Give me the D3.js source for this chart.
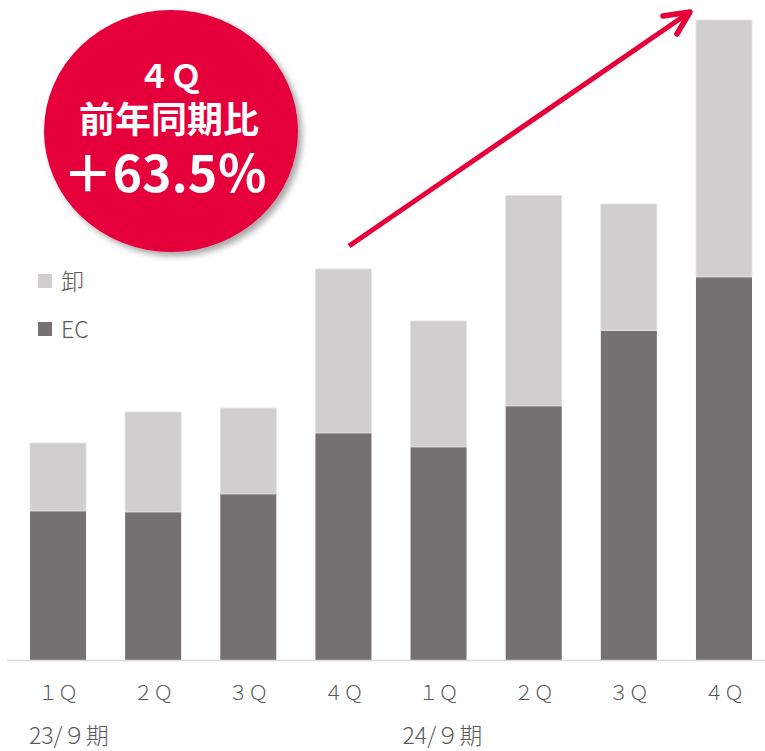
<!DOCTYPE html>
<html>
<head>
<meta charset="utf-8">
<script src="https://cdn.jsdelivr.net/npm/d3@7"></script>
<style>
  html, body { margin: 0; padding: 0; background: #fff; }
  svg { display: block; font-family: "Noto Sans CJK JP", "Noto Sans", sans-serif; }
</style>
</head>
<body>
<svg id="chart" width="765" height="751"></svg>
<script>
// Quarterly sales, split into EC and wholesale (卸)
const quarters = ["１Ｑ", "２Ｑ", "３Ｑ", "４Ｑ", "１Ｑ", "２Ｑ", "３Ｑ", "４Ｑ"];
const periods = [
  { label: "23/９期", first: 0 },
  { label: "24/９期", first: 4 }
];
const ecValues = [149, 148, 166, 227, 213, 254, 329.5, 383];
const wholesaleValues = [68, 100, 86, 164, 126, 210.5, 126.5, 257];
const seriesNames = ["卸", "EC"];
const badgeLines = ["４Ｑ", "前年同期比", "＋63.5％"];

const colors = { EC: "#767171", "卸": "#D0CECE" };
const red = "#E6003A";

const svg = d3.select("#chart");
const W = 765, H = 751;

const x = d3.scaleBand()
  .domain(d3.range(quarters.length))
  .range([10.5, 771.5])
  .paddingInner(0.411)
  .paddingOuter(0.205);

const maxTotal = d3.max(ecValues.map((v, i) => v + wholesaleValues[i]));
const y = d3.scaleLinear().domain([0, maxTotal]).range([660, 20]);

// stacked data: EC at bottom, wholesale on top
const rows = quarters.map((q, i) => ({ i, EC: ecValues[i], "卸": wholesaleValues[i] }));
const stack = d3.stack().keys(["EC", "卸"]);
const layers = stack(rows);

const gBars = svg.append("g");
layers.forEach(layer => {
  gBars.append("g")
    .attr("fill", colors[layer.key])
    .selectAll("rect")
    .data(layer)
    .join("rect")
    .attr("x", (d, j) => x(j))
    .attr("width", x.bandwidth())
    .attr("y", d => y(d[1]))
    .attr("height", d => y(d[0]) - y(d[1]))
    .attr("stroke", layer.key === "卸" ? "#e4e3e3" : "none")
    .attr("stroke-width", 0.8);
});

// baseline axis
const xAxis = d3.axisBottom(x)
  .tickSize(0)
  .tickPadding(26)
  .tickFormat(i => quarters[i]);
const gx = svg.append("g").attr("transform", `translate(0,${y(0)})`).call(xAxis);
gx.select(".domain").remove();
gx.selectAll("text")
  .attr("font-size", 20)
  .attr("font-weight", 300)
  .attr("fill", "#595959")
  .attr("font-family", "'Noto Sans CJK JP', sans-serif");
svg.append("line")
  .attr("x1", 7).attr("x2", W)
  .attr("y1", y(0) + 0.5).attr("y2", y(0) + 0.5)
  .attr("stroke", "#D9D9D9").attr("stroke-width", 1.5);

// fiscal period labels, placed under the first quarter of each period
svg.selectAll("text.period")
  .data(periods)
  .join("text")
  .attr("class", "period")
  .attr("x", d => x(d.first) - (d.first ? 8 : 1))
  .attr("y", 744)
  .attr("font-size", 23)
  .attr("font-weight", 300)
  .attr("fill", "#595959")
  .text(d => d.label);

// legend
const legend = svg.append("g").attr("transform", "translate(38,274)");
seriesNames.forEach((name, k) => {
  const g = legend.append("g").attr("transform", `translate(0,${k * 48})`);
  g.append("rect").attr("width", 14).attr("height", 14).attr("fill", colors[name]);
  g.append("text")
    .attr("x", 23).attr("y", 16)
    .attr("font-size", 23)
    .attr("font-weight", 300)
    .attr("fill", "#595959")
    .text(name);
});

// growth arrow from the year-ago 4Q bar to the latest 4Q bar
const defs = svg.append("defs");
const shadow = defs.append("filter").attr("id", "shadow")
  .attr("x", "-20%").attr("y", "-20%").attr("width", "150%").attr("height", "150%");
shadow.append("feDropShadow")
  .attr("dx", 4).attr("dy", 4).attr("stdDeviation", 3)
  .attr("flood-color", "#000").attr("flood-opacity", 0.35);

const ax0 = x(3) + x.bandwidth() * 0.6, ay0 = 246;
const ax1 = x(7) - 6, ay1 = 12;
svg.append("line")
  .attr("x1", ax0).attr("y1", ay0).attr("x2", ax1 - 3).attr("y2", ay1 + 2)
  .attr("stroke", red).attr("stroke-width", 5);
svg.append("path")
  .attr("d", `M${ax1 - 27},${ay1 + 4} L${ax1},${ay1} L${ax1 - 13},${ay1 + 22}`)
  .attr("fill", "none").attr("stroke", red).attr("stroke-width", 5.5)
  .attr("stroke-linecap", "round").attr("stroke-linejoin", "round");

// year-over-year badge
const badge = svg.append("g");
badge.append("ellipse")
  .attr("cx", 171).attr("cy", 131).attr("rx", 127).attr("ry", 121)
  .attr("fill", red)
  .attr("filter", "url(#shadow)");
const badgeText = badge.append("g").attr("fill", "#fff").attr("text-anchor", "middle")
  .attr("font-weight", 700);
badgeText.append("text").attr("x", 170).attr("y", 88).attr("font-size", 32).text(badgeLines[0]);
badgeText.append("text").attr("x", 169).attr("y", 133).attr("font-size", 36).text(badgeLines[1]);
badgeText.append("text").attr("x", 165).attr("y", 192).attr("font-size", 50).text(badgeLines[2]);
</script>
</body>
</html>
